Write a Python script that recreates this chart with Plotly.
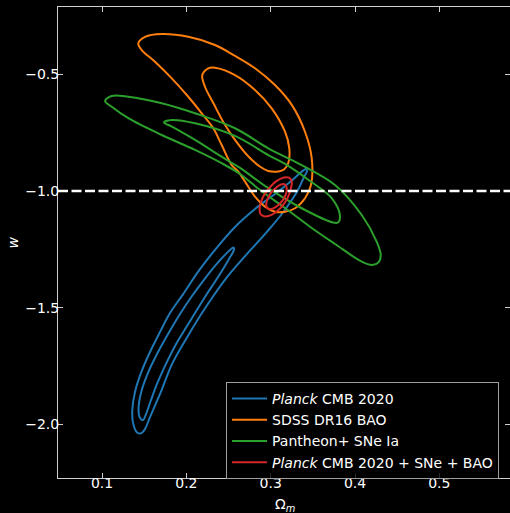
import plotly.graph_objects as go

# ---------------- data ----------------
# Planck CMB 2020 : outer (95%) and inner (68%) contours
planck_om_95 = [0.3419, 0.3368, 0.3250, 0.3051, 0.2814, 0.2577, 0.2320, 0.2138, 0.1964, 0.1806,
                0.1688, 0.1569, 0.1462, 0.1391, 0.1359, 0.1368, 0.1415, 0.1462, 0.1510, 0.1569,
                0.1688, 0.1830, 0.2004, 0.2162, 0.2320, 0.2494, 0.2696, 0.2953, 0.3150, 0.3324,
                0.3395, 0.3431]
planck_w_95 = [-0.906, -0.917, -0.955, -1.013, -1.077, -1.154, -1.261, -1.347, -1.441, -1.523,
               -1.604, -1.690, -1.780, -1.862, -1.939, -1.994, -2.035, -2.039, -2.020, -1.969,
               -1.870, -1.742, -1.630, -1.536, -1.450, -1.364, -1.279, -1.176, -1.090, -0.996,
               -0.940, -0.914]
planck_om_68 = [0.2559, 0.2494, 0.2340, 0.2198, 0.2067, 0.1925, 0.1783, 0.1652, 0.1545, 0.1462,
                0.1433, 0.1451, 0.1486, 0.1522, 0.1581, 0.1652, 0.1735, 0.1866, 0.2008, 0.2221,
                0.2376, 0.2506, 0.2565]
planck_w_68 = [-1.242, -1.261, -1.321, -1.386, -1.450, -1.527, -1.613, -1.699, -1.780, -1.866,
               -1.939, -1.973, -1.982, -1.956, -1.896, -1.827, -1.759, -1.664, -1.579, -1.454,
               -1.369, -1.291, -1.251]

# SDSS DR16 BAO
bao_om_95 = [0.1430, 0.1510, 0.1708, 0.2023, 0.2340, 0.2577, 0.2814, 0.3051, 0.3250, 0.3407,
             0.3487, 0.3478, 0.3407, 0.3289, 0.3170, 0.3051, 0.2933, 0.2814, 0.2696, 0.2616,
             0.2538, 0.2419, 0.2320, 0.2182, 0.2023, 0.1827, 0.1628, 0.1471]
bao_w_95 = [-0.367, -0.339, -0.327, -0.339, -0.374, -0.421, -0.474, -0.546, -0.631, -0.746,
            -0.860, -0.974, -1.031, -1.074, -1.089, -1.089, -1.067, -1.024, -0.960, -0.917,
            -0.889, -0.803, -0.731, -0.667, -0.596, -0.517, -0.446, -0.396]
bao_om_68 = [0.2189, 0.2260, 0.2340, 0.2577, 0.2814, 0.3012, 0.3170, 0.3221, 0.3209, 0.3158,
             0.3091, 0.2972, 0.2876, 0.2731, 0.2577, 0.2438, 0.2320, 0.2221]
bao_w_68 = [-0.503, -0.474, -0.4715, -0.503, -0.567, -0.6455, -0.746, -0.817, -0.880, -0.908,
            -0.916, -0.914, -0.896, -0.850, -0.781, -0.704, -0.623, -0.553]

# Pantheon+ SNe Ia
sne_om_95 = [0.1036, 0.1115, 0.1312, 0.1708, 0.2103, 0.2577, 0.2972, 0.3368, 0.3763, 0.4080,
             0.4257, 0.4305, 0.4279, 0.4202, 0.4080, 0.3763, 0.3466, 0.3170, 0.2874, 0.2636,
             0.2419, 0.2103, 0.1708, 0.1312, 0.1115]
sne_w_95 = [-0.614, -0.593, -0.596, -0.624, -0.667, -0.731, -0.817, -0.889, -0.974, -1.103,
            -1.217, -1.274, -1.306, -1.317, -1.303, -1.227, -1.153, -1.073, -0.996, -0.927,
            -0.881, -0.824, -0.760, -0.688, -0.639]
sne_om_68 = [0.1735, 0.1827, 0.2103, 0.2577, 0.2972, 0.3170, 0.3466, 0.3724, 0.3822, 0.3798,
             0.3739, 0.3368, 0.2972, 0.2636, 0.2419, 0.2103, 0.1827]
sne_w_68 = [-0.706, -0.696, -0.710, -0.764, -0.846, -0.884, -0.957, -1.031, -1.107, -1.135,
            -1.135, -1.074, -0.988, -0.901, -0.853, -0.781, -0.724]

# Planck CMB 2020 + SNe + BAO
comb_om_95 = [0.3158, 0.3217, 0.3250, 0.3241, 0.3194, 0.3111, 0.3016, 0.2933, 0.2880, 0.2870,
              0.2903, 0.2968, 0.3063]
comb_w_95 = [-0.942, -0.943, -0.959, -0.987, -1.034, -1.075, -1.101, -1.109, -1.099, -1.069,
             -1.030, -0.994, -0.959]
comb_om_68 = [0.3134, 0.3176, 0.3190, 0.3164, 0.3099, 0.3022, 0.2962, 0.2948, 0.2980, 0.3046]
comb_w_68 = [-0.971, -0.974, -0.996, -1.028, -1.058, -1.076, -1.075, -1.054, -1.021, -0.991]

w_lcdm = -1.0

x_ticks = [0.1, 0.2, 0.3, 0.4, 0.5]
y_ticks = [-0.5, -1.0, -1.5, -2.0]
x_range = [0.0478, 0.5838]
y_range = [-2.2302, -0.2113]

series = [
    ("<i>Planck</i> CMB 2020", "#1f77b4", planck_om_95, planck_w_95, planck_om_68, planck_w_68),
    ("SDSS DR16 BAO", "#ff7f0e", bao_om_95, bao_w_95, bao_om_68, bao_w_68),
    ("Pantheon+ SNe Ia", "#2ca02c", sne_om_95, sne_w_95, sne_om_68, sne_w_68),
    ("<i>Planck</i> CMB 2020 + SNe + BAO", "#d62728", comb_om_95, comb_w_95, comb_om_68, comb_w_68),
]


def closed(a):
    return list(a) + [a[0]]


fig = go.Figure()
for name, color, ox, oy, ix, iy in series:
    for k, (xx, yy) in enumerate([(ox, oy), (ix, iy)]):
        fig.add_trace(go.Scatter(
            x=closed(xx), y=closed(yy), mode="lines",
            line=dict(color=color, width=2, shape="spline", smoothing=1.0),
            name=name, showlegend=(k == 0),
            hoverinfo="skip",
        ))

fig.add_shape(type="line", xref="paper", x0=0, x1=1, yref="y", y0=w_lcdm, y1=w_lcdm,
              line=dict(color="white", width=2.5, dash="10px,3.5px"), layer="above")

font = dict(family="DejaVu Sans", size=14, color="white")
axis_common = dict(
    showgrid=False, zeroline=False, showline=True, linecolor="#cfcfcf", linewidth=1,
    mirror="ticks", ticks="inside", ticklen=5, tickwidth=1, tickcolor="#cfcfcf",
    tickfont=font, automargin=False,
)

fig.update_layout(
    width=510, height=513,
    margin=dict(l=58, r=0, t=7, b=35, autoexpand=False),
    paper_bgcolor="black", plot_bgcolor="black",
    font=font,
    xaxis=dict(range=x_range, tickvals=x_ticks, ticktext=[f"{v:.1f}" for v in x_ticks],
               ticklabelstandoff=-8, **axis_common),
    yaxis=dict(range=y_range, tickvals=y_ticks,
               ticktext=[f"\u2212{abs(v):.1f}" for v in y_ticks],
               ticklabelstandoff=-5, **axis_common),
    legend=dict(
        x=0.3717, y=0.2038, xanchor="left", yanchor="top",
        bgcolor="rgba(0,0,0,0.8)", bordercolor="#a0a0a0", borderwidth=1,
        font=dict(family="DejaVu Sans", size=14, color="white"),
        itemwidth=35, tracegroupgap=0,
    ),
    showlegend=True,
)

fig.add_annotation(text="\u03a9<sub><i>m</i></sub>", xref="paper", yref="paper",
                   x=0.502, y=-0.057, showarrow=False, xanchor="center", yanchor="middle",
                   font=dict(family="DejaVu Sans", size=14, color="white"))
fig.add_annotation(text="<i>w</i>", xref="paper", yref="paper", textangle=-90,
                   x=-0.0996, y=0.5, showarrow=False, xanchor="center", yanchor="middle",
                   font=dict(family="DejaVu Sans", size=14, color="white"))

fig.write_html(
    "out.html",
    config={"displayModeBar": False},
    post_script="document.body.style.margin='0';document.body.style.overflow='hidden';",
)
